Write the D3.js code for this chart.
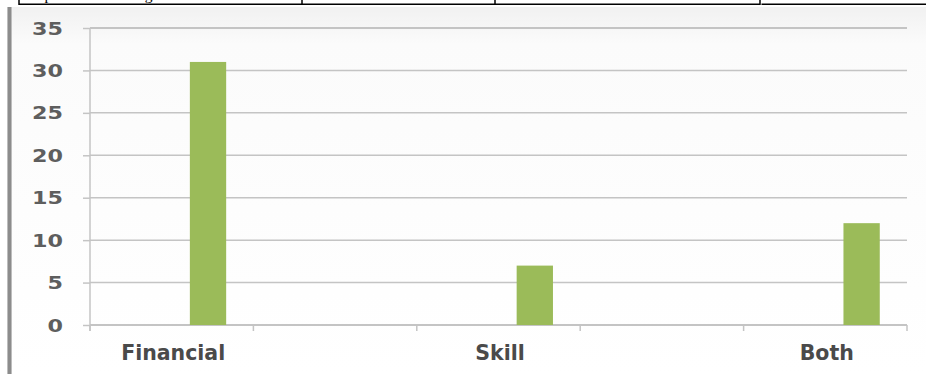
<!DOCTYPE html>
<html>
<head>
<meta charset="utf-8">
<script src="https://cdn.jsdelivr.net/npm/d3@7"></script>
<style>
  html, body { margin: 0; padding: 0; background: #ffffff; }
  svg { display: block; }
</style>
</head>
<body>
<svg id="chart" width="926" height="374"></svg>
<script>
// Category axis slots (blank slots keep the axis spacing of the source table)
const categories = ["Financial", "", "Skill", "", "Both"];
// Number of respondents in each category
const respondents = [31, null, 7, null, 12];
// Value axis
const yTicks = [0, 5, 10, 15, 20, 25, 30, 35];
const yMax = 35;
// Column slots within each category cluster; the data occupies the last one
const clusterSlots = [0, 1, 2];
const dataSlot = 2;
// Header row of the table above the chart
const headerText = "Help Needed Through";
const headerCells = [19, 302, 495, 760];

const W = 926, H = 374;
const margin = { left: 90, right: 19, top: 28, bottom: 49 };

const svg = d3.select("#chart");

// background of the chart frame
const defs = svg.append("defs");
const grad = defs.append("linearGradient").attr("id", "bg")
  .attr("x1", 0).attr("y1", 0).attr("x2", 0).attr("y2", 1);
grad.append("stop").attr("offset", "0%").attr("stop-color", "#f1f1f1");
grad.append("stop").attr("offset", "10%").attr("stop-color", "#fbfbfb");
grad.append("stop").attr("offset", "100%").attr("stop-color", "#ffffff");
svg.append("rect").attr("x", 11).attr("y", 7).attr("width", W - 11).attr("height", H - 7)
  .attr("fill", "url(#bg)");

// left frame edge
svg.append("rect").attr("x", 7).attr("y", 7).attr("width", 5).attr("height", H - 7)
  .attr("fill", "#bdbdbd");
svg.append("rect").attr("x", 8).attr("y", 7).attr("width", 3).attr("height", H - 7)
  .attr("fill", "#8c8c8c");

// table header row cut off at the top
const hdr = svg.append("g");
hdr.append("text").attr("x", 22).attr("y", 0)
  .attr("font-family", "Liberation Serif, serif").attr("font-size", 15.5)
  .attr("fill", "#000").text(headerText);
hdr.append("line").attr("x1", headerCells[0]).attr("x2", 760).attr("y1", 4.25).attr("y2", 4.25)
  .attr("stroke", "#000").attr("stroke-width", 1.5);
hdr.append("line").attr("x1", 761.5).attr("x2", W).attr("y1", 4.25).attr("y2", 4.25)
  .attr("stroke", "#000").attr("stroke-width", 1.5);
hdr.selectAll("line.cell").data(headerCells).join("line").attr("class", "cell")
  .attr("x1", d => d).attr("x2", d => d).attr("y1", 0).attr("y2", 5)
  .attr("stroke", "#000").attr("stroke-width", 1.5);

// scales
const x0 = d3.scaleBand().domain(d3.range(categories.length))
  .range([margin.left, W - margin.right]).paddingInner(0).paddingOuter(0);
const x1 = d3.scaleBand().domain(clusterSlots)
  .range([0, x0.bandwidth()]).paddingInner(0).paddingOuter(0.75);
const y = d3.scaleLinear().domain([0, yMax]).range([H - margin.bottom, margin.top]);

const gridColor = "#c4c4c4";

// horizontal gridlines
svg.append("g").selectAll("line").data(yTicks.filter(d => d > 0)).join("line")
  .attr("x1", margin.left).attr("x2", W - margin.right)
  .attr("y1", d => y(d)).attr("y2", d => y(d))
  .attr("stroke", gridColor).attr("stroke-width", d => d === yMax ? 2 : 1.5);

// value axis
const yAxis = svg.append("g").attr("transform", `translate(${margin.left},0)`)
  .call(d3.axisLeft(y).tickValues(yTicks).tickSize(7).tickPadding(20).tickFormat(d3.format("d")));
yAxis.select(".domain").attr("stroke", gridColor).attr("stroke-width", 1.5)
  .attr("d", `M0,${y(yMax)}V${y(0) + 6}`);
yAxis.selectAll(".tick line").attr("stroke", gridColor).attr("stroke-width", 1.5);
yAxis.selectAll(".tick text")
  .attr("font-family", "DejaVu Sans, sans-serif").attr("font-weight", "bold")
  .attr("font-size", 17).attr("fill", "#5e5e5e").attr("dy", "0.36em")
  .attr("x", -27)
  .attr("textLength", function () { return 15.5 * this.textContent.length; })
  .attr("lengthAdjust", "spacingAndGlyphs");

// category axis
const xAxisG = svg.append("g").attr("transform", `translate(0,${y(0)})`);
xAxisG.append("line").attr("x1", margin.left).attr("x2", W - margin.right)
  .attr("y1", 0).attr("y2", 0).attr("stroke", gridColor).attr("stroke-width", 2);
const bounds = d3.range(categories.length + 1).map(i =>
  i < categories.length ? x0(i) : x0(categories.length - 1) + x0.bandwidth());
xAxisG.selectAll("line.tick").data(bounds).join("line").attr("class", "tick")
  .attr("x1", d => d).attr("x2", d => d).attr("y1", 0).attr("y2", 6)
  .attr("stroke", gridColor).attr("stroke-width", 1.5);
xAxisG.selectAll("text").data(categories.map((c, i) => ({ c, i })).filter(d => d.c))
  .join("text")
  .attr("x", d => x0(d.i) + x0.bandwidth() / 2 + 1.5).attr("y", 35)
  .attr("text-anchor", "middle")
  .attr("font-family", "DejaVu Sans, sans-serif").attr("font-weight", "bold")
  .attr("font-size", 20.5).attr("fill", "#4a4a4a")
  .text(d => d.c);

// columns
svg.append("g").selectAll("rect")
  .data(respondents.map((v, i) => ({ v, i })).filter(d => d.v != null))
  .join("rect")
  .attr("x", d => x0(d.i) + x1(dataSlot))
  .attr("width", x1.bandwidth())
  .attr("y", d => y(d.v))
  .attr("height", d => y(0) - y(d.v))
  .attr("fill", "#9bbb59");
</script>
</body>
</html>
